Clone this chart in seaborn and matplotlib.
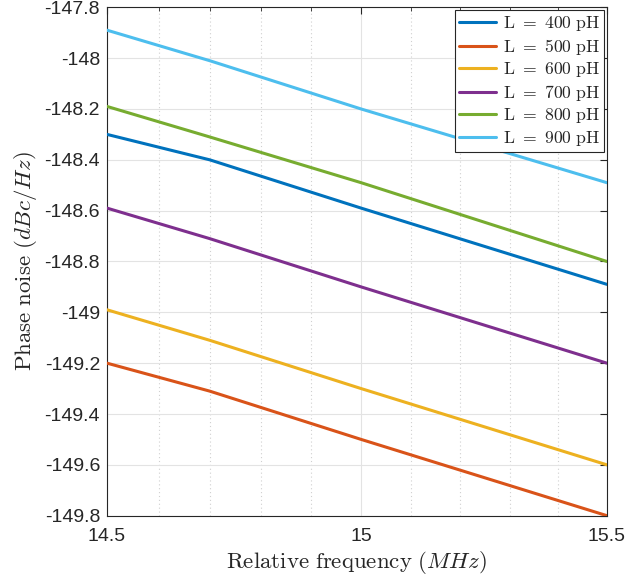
import matplotlib
matplotlib.use("Agg")
import matplotlib.pyplot as plt
import matplotlib.ticker as mticker
import seaborn as sns
import pandas as pd

freq = [14.5, 14.7, 15.0, 15.5]
labels = ["L = 400 pH", "L = 500 pH", "L = 600 pH", "L = 700 pH", "L = 800 pH", "L = 900 pH"]
pn_400 = [-148.30, -148.40, -148.59, -148.89]
pn_500 = [-149.20, -149.31, -149.50, -149.80]
pn_600 = [-148.99, -149.11, -149.30, -149.60]
pn_700 = [-148.59, -148.71, -148.90, -149.20]
pn_800 = [-148.19, -148.31, -148.49, -148.80]
pn_900 = [-147.89, -148.01, -148.20, -148.49]
colors = ["#0072BD", "#D95319", "#EDB120", "#7E2F8E", "#77AC30", "#4DBEEE"]

series = [pn_400, pn_500, pn_600, pn_700, pn_800, pn_900]
rows = []
for lab, vals in zip(labels, series):
    for f, v in zip(freq, vals):
        rows.append({"freq": f, "pn": v, "series": lab})
df = pd.DataFrame(rows)

sns.set_style("white")
plt.rcParams["font.family"] = ["Liberation Sans", "DejaVu Sans"]
plt.rcParams["mathtext.fontset"] = "cm"
plt.rcParams["axes.unicode_minus"] = False

fig = plt.figure(figsize=(6.27, 5.8), dpi=100)
ax = fig.add_axes([0.1707, 0.1109, 0.7973, 0.8765])

sns.lineplot(data=df, x="freq", y="pn", hue="series", hue_order=labels,
             palette=colors, linewidth=2.2, ax=ax, legend=True, zorder=3)

ax.set_xscale("log")
ax.set_xlim(14.5, 15.5)
ax.set_ylim(-149.8, -147.8)
ax.xaxis.set_major_locator(mticker.FixedLocator([14.5, 15.0, 15.5]))
ax.xaxis.set_major_formatter(mticker.FixedFormatter(["14.5", "15", "15.5"]))
ax.xaxis.set_minor_locator(mticker.FixedLocator([14.6, 14.7, 14.8, 14.9, 15.1, 15.2, 15.3, 15.4]))
ax.xaxis.set_minor_formatter(mticker.NullFormatter())
yt = [-149.8, -149.6, -149.4, -149.2, -149.0, -148.8, -148.6, -148.4, -148.2, -148.0, -147.8]
ax.yaxis.set_major_locator(mticker.FixedLocator(yt))
ax.yaxis.set_major_formatter(mticker.FixedFormatter(["%g" % v for v in yt]))
ax.yaxis.set_minor_locator(mticker.NullLocator())

ax.grid(True, which="major", color="#e3e3e3", linewidth=0.8, zorder=0)
ax.grid(True, which="minor", axis="x", color="#d0d0d0", linestyle=(0, (1, 2.5)), linewidth=0.8, zorder=0)

ax.tick_params(which="both", direction="in", top=True, right=True, colors="#262626",
               labelsize=14, labelcolor="#262626")
ax.tick_params(which="major", length=5, width=0.8)
ax.tick_params(which="minor", length=3, width=0.6)
for s in ax.spines.values():
    s.set_color("#262626")
    s.set_linewidth(0.8)
ax.tick_params(axis="x", pad=9)
ax.tick_params(axis="y", pad=5)

ax.set_xlabel(r"$\mathrm{Relative\ frequency}\ (MHz)$", fontsize=16.5, color="#262626", labelpad=3)
ax.set_ylabel(r"$\mathrm{Phase\ noise}\ (dBc/Hz)$", fontsize=16.5, color="#262626", labelpad=4)

handles, _ = ax.get_legend_handles_labels()
leg = ax.legend(handles, [r"$\mathrm{L\ =\ %s\ pH}$" % l.split()[2] for l in labels],
                loc="upper right", fontsize=12.7, frameon=True, fancybox=False,
                borderpad=0.25, labelspacing=0.2, handlelength=2.1, handletextpad=0.35,
                borderaxespad=0.15, framealpha=1)
leg.get_frame().set_edgecolor("#262626")
leg.get_frame().set_linewidth(0.8)

fig.savefig("out.png", dpi=100)
